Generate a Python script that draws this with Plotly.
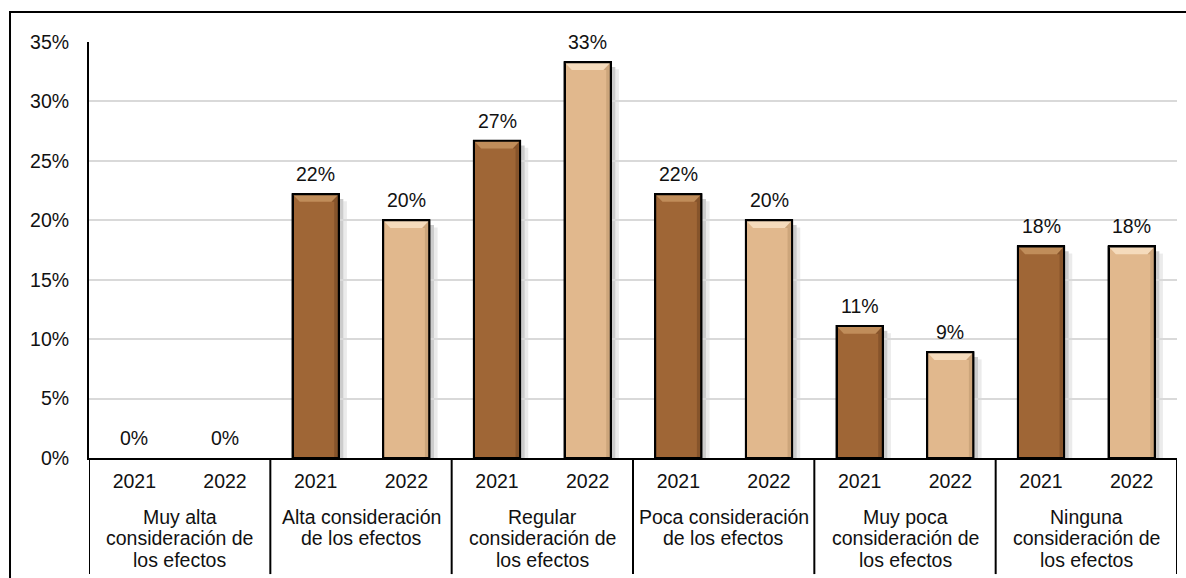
import plotly.graph_objects as go

groups = ["Muy alta<br>consideración de<br>los efectos",
          "Alta consideración<br>de los efectos",
          "Regular<br>consideración de<br>los efectos",
          "Poca consideración<br>de los efectos",
          "Muy poca<br>consideración de<br>los efectos",
          "Ninguna<br>consideración de<br>los efectos"]
years = ["2021", "2022"]
v2021 = [0.0, 22.2, 26.7, 22.2, 11.1, 17.8]
v2022 = [0.0, 20.0, 33.3, 20.0, 8.9, 17.8]
yticks = [0, 5, 10, 15, 20, 25, 30, 35]

FONT = "Liberation Sans, Arial, sans-serif"
FS = 19.5
TXT = "#111111"
C21, C22 = "#9F6636", "#E1B88D"
TOP21, TOP22 = "#C08D5A", "#F5DBBC"
SIDE21, SIDE22 = "#6E4220", "#B8926A"
W = 0.51

x21 = [2 * i for i in range(len(groups))]
x22 = [2 * i + 1 for i in range(len(groups))]

fig = go.Figure()
shapes = []
for xs, vs, top, side in [(x21, v2021, TOP21, SIDE21), (x22, v2022, TOP22, SIDE22)]:
    for x, v in zip(xs, vs):
        if v <= 0:
            continue
        l, r = x - W / 2, x + W / 2
        shapes.append(dict(type="rect", xref="x", yref="y", x0=r, x1=r + 0.05,
                           y0=0, y1=v - 0.4, fillcolor="rgba(0,0,0,0.20)",
                           line=dict(width=0), layer="below"))
        shapes.append(dict(type="rect", xref="x", yref="y", x0=r + 0.05, x1=r + 0.09,
                           y0=0, y1=v - 0.6, fillcolor="rgba(0,0,0,0.08)",
                           line=dict(width=0), layer="below"))
        d, h = 0.08, 0.65
        shapes.append(dict(type="path", xref="x", yref="y",
                           path=f"M {l},{v} L {r},{v} L {r-d},{v-h} L {l+d},{v-h} Z",
                           fillcolor=top, line=dict(width=0), layer="above"))
        shapes.append(dict(type="path", xref="x", yref="y",
                           path=f"M {r},{v} L {r},0 L {r-0.05},0 L {r-0.05},{v-h} L {r-d},{v-h} Z",
                           fillcolor=side, opacity=0.5, line=dict(width=0), layer="above"))
        shapes.append(dict(type="rect", xref="x", yref="y", x0=l, x1=r, y0=0, y1=v,
                           fillcolor="rgba(0,0,0,0)", line=dict(color="#000000", width=2),
                           layer="above"))

def lw(vs):
    return [2 if v > 0 else 0 for v in vs]

fig.add_trace(go.Bar(x=x21, y=v2021, width=W,
                     marker=dict(color=C21, line=dict(color="#000", width=lw(v2021))),
                     name="2021", showlegend=False))
fig.add_trace(go.Bar(x=x22, y=v2022, width=W,
                     marker=dict(color=C22, line=dict(color="#000", width=lw(v2022))),
                     name="2022", showlegend=False))

annotations = []
for xs, vs in [(x21, v2021), (x22, v2022)]:
    for x, v in zip(xs, vs):
        annotations.append(dict(x=x, y=v, xref="x", yref="y", text=f"{round(v)}%",
                                showarrow=False, yanchor="bottom", yshift=7,
                                font=dict(family=FONT, size=FS, color=TXT)))
line_centers = [516.7, 538.3, 560.0]
for i, g in enumerate(groups):
    for j, part in enumerate(g.split("<br>")):
        annotations.append(dict(x=2 * i + 0.5, y=(458 - line_centers[j]) / 416,
                                xref="x", yref="paper", text=part,
                                showarrow=False, yanchor="middle", align="center",
                                font=dict(family=FONT, size=FS, color=TXT)))

for k in range(len(groups) + 1):
    shapes.append(dict(type="line", xref="x", yref="paper", x0=2 * k - 0.5, x1=2 * k - 0.5,
                       y0=0, y1=-0.279, line=dict(color="#000", width=2)))
shapes.append(dict(type="path", xref="paper", yref="paper",
                   path="M -0.0726,-0.3 L -0.0726,1.072 L 1.02,1.072",
                   line=dict(color="#000", width=2)))

fig.update_layout(
    width=1186, height=578,
    margin=dict(l=89, r=9, t=42, b=120),
    paper_bgcolor="white", plot_bgcolor="white",
    bargap=0, showlegend=False,
    shapes=shapes, annotations=annotations,
    font=dict(family=FONT, size=FS, color=TXT),
    xaxis=dict(range=[-0.5, 11.5], tickmode="array", tickvals=list(range(12)),
               ticktext=[years[i % 2] for i in range(12)], showgrid=False,
               showline=True, linecolor="#000", linewidth=2,
               ticks="outside", ticklen=5, tickcolor="rgba(0,0,0,0)",
               tickfont=dict(family=FONT, size=FS, color=TXT), zeroline=False),
    yaxis=dict(range=[0, 35], tickmode="array", tickvals=yticks,
               ticktext=[f"{t}%" for t in yticks], showgrid=True,
               gridcolor="#D9D9D9", gridwidth=1.5, showline=True, linecolor="#000",
               linewidth=2, ticks="outside", ticklen=14, tickcolor="rgba(0,0,0,0)",
               tickfont=dict(family=FONT, size=FS, color=TXT), zeroline=False),
)

fig.write_html("out.html")
